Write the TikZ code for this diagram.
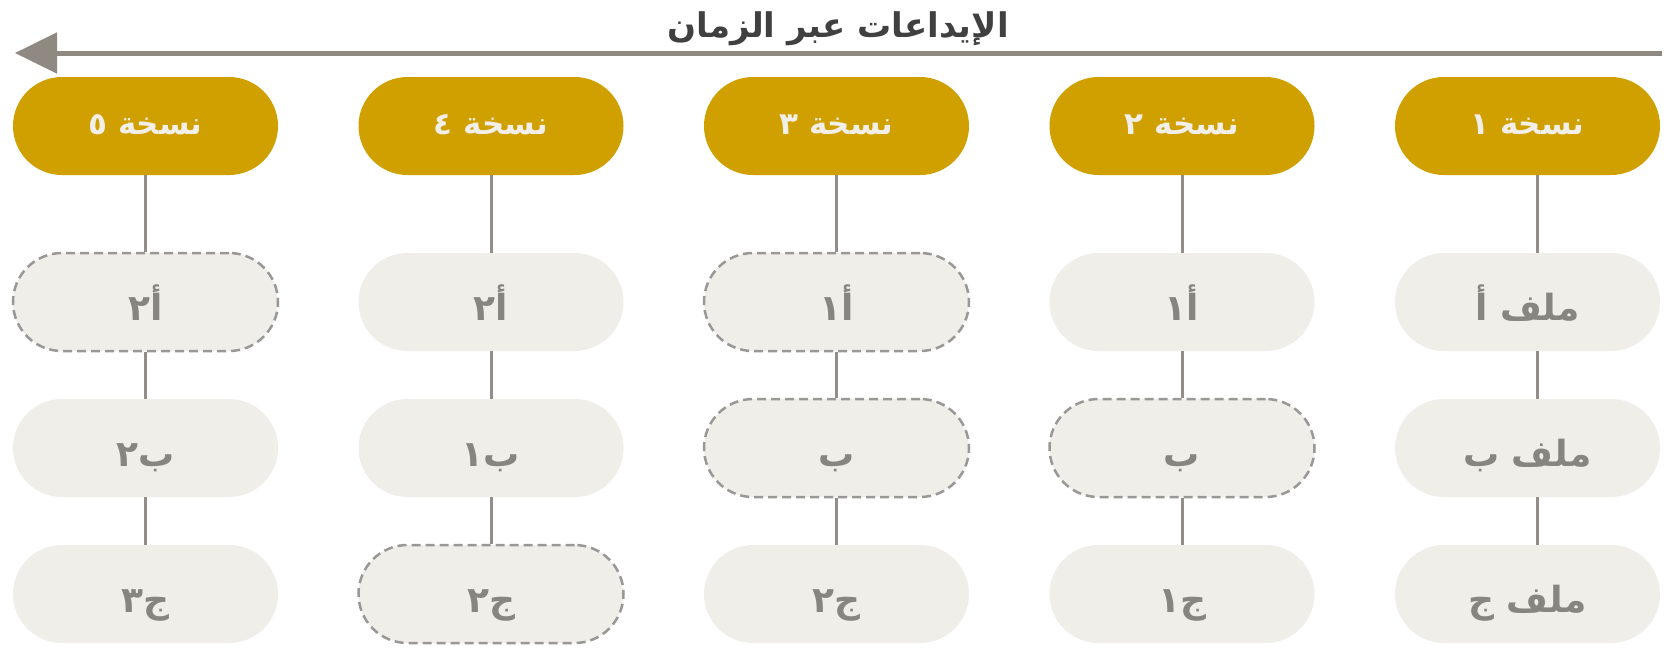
\documentclass[tikz,border=0pt]{standalone}
\usepackage{fontspec}
\newfontfamily\arabicfont[Script=Arabic]{DejaVu Sans}
\TeXXeTstate=1
\usetikzlibrary{arrows.meta}
\definecolor{gold}{RGB}{207,160,0}
\definecolor{hdrtext}{RGB}{242,239,233}
\definecolor{filefill}{RGB}{239,238,232}
\definecolor{filetext}{RGB}{135,133,128}
\definecolor{dashgray}{RGB}{154,152,150}
\definecolor{conngray}{RGB}{146,141,135}
\definecolor{arrowgray}{RGB}{143,137,129}
\definecolor{titlegray}{RGB}{64,64,64}
\tikzset{
  pill/.style={rounded corners=49pt, minimum width=265pt, minimum height=98pt, inner sep=0pt},
  hdr/.style={pill, fill=gold, text=hdrtext, text height=16pt, text depth=0pt, font=\arabicfont\bfseries\fontsize{31}{33}\selectfont},
  filebox/.style={pill, fill=filefill, text=filetext, text height=36pt, text depth=0pt, font=\arabicfont\bfseries\fontsize{36}{38}\selectfont},
  chg/.style={filebox, draw=dashgray, line width=2.5pt, dash pattern=on 9pt off 5pt},
  conn/.style={draw=conngray, line width=3pt},
  timeline/.style={draw=arrowgray, line width=5pt, -{Triangle[length=42pt,width=40pt]}},
  title/.style={font=\arabicfont\bfseries\fontsize{34}{36}\selectfont, text=titlegray, inner sep=0pt, anchor=base}
}
\begin{document}
\begin{tikzpicture}[x=1pt,y=-1pt]
\useasboundingbox[fill=white] (0,0) rectangle (1674,657);
% timeline
\coordinate (tstart) at (1662,53);
\coordinate (tend) at (15,53);
\draw[timeline] (tstart) -- (tend);
\node[title] (ttl) at (838,37) {\beginR الإيداعات عبر الزمان\endR};
% column 1
\node[hdr] (h1) at (1527.5,126) {\beginR نسخة ١\endR};
\node[filebox] (a1) at (1527.5,302) {\beginR ملف أ\endR};
\node[filebox] (b1) at (1527.5,448) {\beginR ملف ب\endR};
\node[filebox] (c1) at (1527.5,594) {\beginR ملف ج\endR};
% column 2
\node[hdr] (h2) at (1182,126) {\beginR نسخة ٢\endR};
\node[filebox] (a2) at (1182,302) {\beginR أ١\endR};
\node[chg] (b2) at (1182,448) {\beginR ب\endR};
\node[filebox] (c2) at (1182,594) {\beginR ج١\endR};
% column 3
\node[hdr] (h3) at (836.5,126) {\beginR نسخة ٣\endR};
\node[chg] (a3) at (836.5,302) {\beginR أ١\endR};
\node[chg] (b3) at (836.5,448) {\beginR ب\endR};
\node[filebox] (c3) at (836.5,594) {\beginR ج٢\endR};
% column 4
\node[hdr] (h4) at (491,126) {\beginR نسخة ٤\endR};
\node[filebox] (a4) at (491,302) {\beginR أ٢\endR};
\node[filebox] (b4) at (491,448) {\beginR ب١\endR};
\node[chg] (c4) at (491,594) {\beginR ج٢\endR};
% column 5
\node[hdr] (h5) at (145.5,126) {\beginR نسخة ٥\endR};
\node[chg] (a5) at (145.5,302) {\beginR أ٢\endR};
\node[filebox] (b5) at (145.5,448) {\beginR ب٢\endR};
\node[filebox] (c5) at (145.5,594) {\beginR ج٣\endR};
% connectors
\draw[conn] ([xshift=9.5pt]h1.south) -- ([xshift=9.5pt]a1.north);
\draw[conn] ([xshift=9.5pt]a1.south) -- ([xshift=9.5pt]b1.north);
\draw[conn] ([xshift=9.5pt]b1.south) -- ([xshift=9.5pt]c1.north);
\foreach \c in {2,3,4,5}{
  \draw[conn] (h\c.south) -- (a\c.north);
  \draw[conn] (a\c.south) -- (b\c.north);
  \draw[conn] (b\c.south) -- (c\c.north);
}
\end{tikzpicture}
\end{document}
